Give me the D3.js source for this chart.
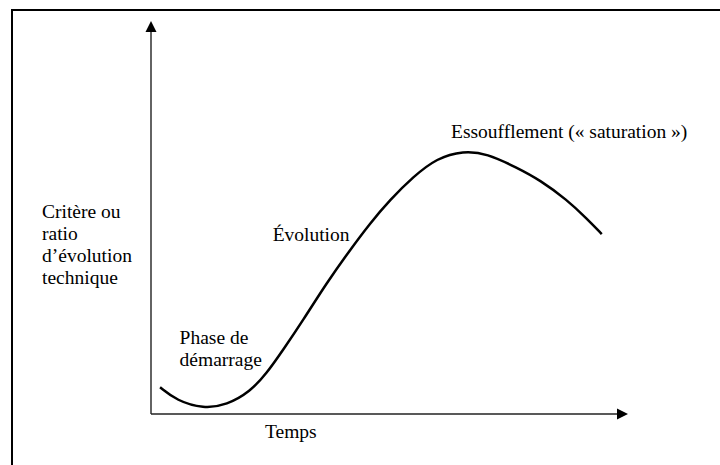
<!DOCTYPE html>
<html>
<head>
<meta charset="utf-8">
<script src="https://cdn.jsdelivr.net/npm/d3@7"></script>
<style>
  body { margin: 0; background: #fff; }
  text { font-family: "Liberation Serif", "Times New Roman", Times, "DejaVu Serif", serif; font-size: 19.5px; fill: #000; }
</style>
</head>
<body>
<div id="chart"></div>
<script>
// S-curve of technical evolution (time, criterion)
const temps = [0.19, 0.54, 1.10, 1.59, 2.08, 2.43, 2.77, 3.19, 3.68, 4.17, 4.59, 5.01, 5.50, 5.99, 6.55, 7.04, 7.67, 8.16, 8.72, 9.13, 9.45];
const critere = [0.68, 0.34, 0.135, 0.23, 0.57, 1.04, 1.63, 2.39, 3.33, 4.17, 4.85, 5.45, 6.04, 6.51, 6.70, 6.63, 6.27, 5.95, 5.45, 4.98, 4.58];

const yLabel = ["Critère ou", "ratio", "d\u2019évolution", "technique"];
const xLabel = "Temps";
const phases = [
  {lines: ["Phase de", "démarrage"], t: 0.6, v: 1.79},
  {lines: ["Évolution"], t: 2.55, v: 4.39},
  {lines: ["Essoufflement (« saturation »)"], t: 6.29, v: 7.03}
];

const width = 720, height = 465;
const svg = d3.select("#chart").append("svg")
    .attr("width", width)
    .attr("height", height);

// frame (only left and top edges fall inside the picture)
svg.append("rect")
    .attr("x", 12).attr("y", 10)
    .attr("width", 760).attr("height", 500)
    .attr("fill", "none")
    .attr("stroke", "#000")
    .attr("stroke-width", 2);

const x = d3.scaleLinear().domain([0, 10]).range([151, 628]);
const y = d3.scaleLinear().domain([0, 10]).range([414, 21]);

// axes with arrow heads
svg.append("line")
    .attr("x1", x(0)).attr("y1", y(0))
    .attr("x2", x(0)).attr("y2", y(10) + 8)
    .attr("stroke", "#222").attr("stroke-width", 1.4);
svg.append("path")
    .attr("d", `M${x(0)},${y(10)} L${x(0) - 5.5},${y(10) + 11} L${x(0) + 5.5},${y(10) + 11} Z`)
    .attr("fill", "#000");

svg.append("line")
    .attr("x1", x(0)).attr("y1", y(0))
    .attr("x2", x(10) - 8).attr("y2", y(0))
    .attr("stroke", "#222").attr("stroke-width", 1.4);
svg.append("path")
    .attr("d", `M${x(10)},${y(0)} L${x(10) - 11},${y(0) - 5.5} L${x(10) - 11},${y(0) + 5.5} Z`)
    .attr("fill", "#000");

// the curve
const pts = temps.map((t, i) => [t, critere[i]]);
const line = d3.line()
    .x(d => x(d[0]))
    .y(d => y(d[1]))
    .curve(d3.curveBasis);
svg.append("path")
    .datum(pts)
    .attr("d", line)
    .attr("fill", "none")
    .attr("stroke", "#000")
    .attr("stroke-width", 2.5);

// y label
svg.append("text")
    .attr("x", 42).attr("y", 217.7)
    .selectAll("tspan")
    .data(yLabel)
    .join("tspan")
      .attr("x", 42)
      .attr("dy", (d, i) => i === 0 ? 0 : 22.2)
      .text(d => d);

// x label
svg.append("text")
    .attr("x", 265).attr("y", 438.3)
    .text(xLabel);

// phase labels
phases.forEach(p => {
  svg.append("text")
      .attr("x", x(p.t)).attr("y", y(p.v))
      .selectAll("tspan")
      .data(p.lines)
      .join("tspan")
        .attr("x", x(p.t))
        .attr("dy", (d, i) => i === 0 ? 0 : 22.7)
        .text(d => d);
});
</script>
</body>
</html>
